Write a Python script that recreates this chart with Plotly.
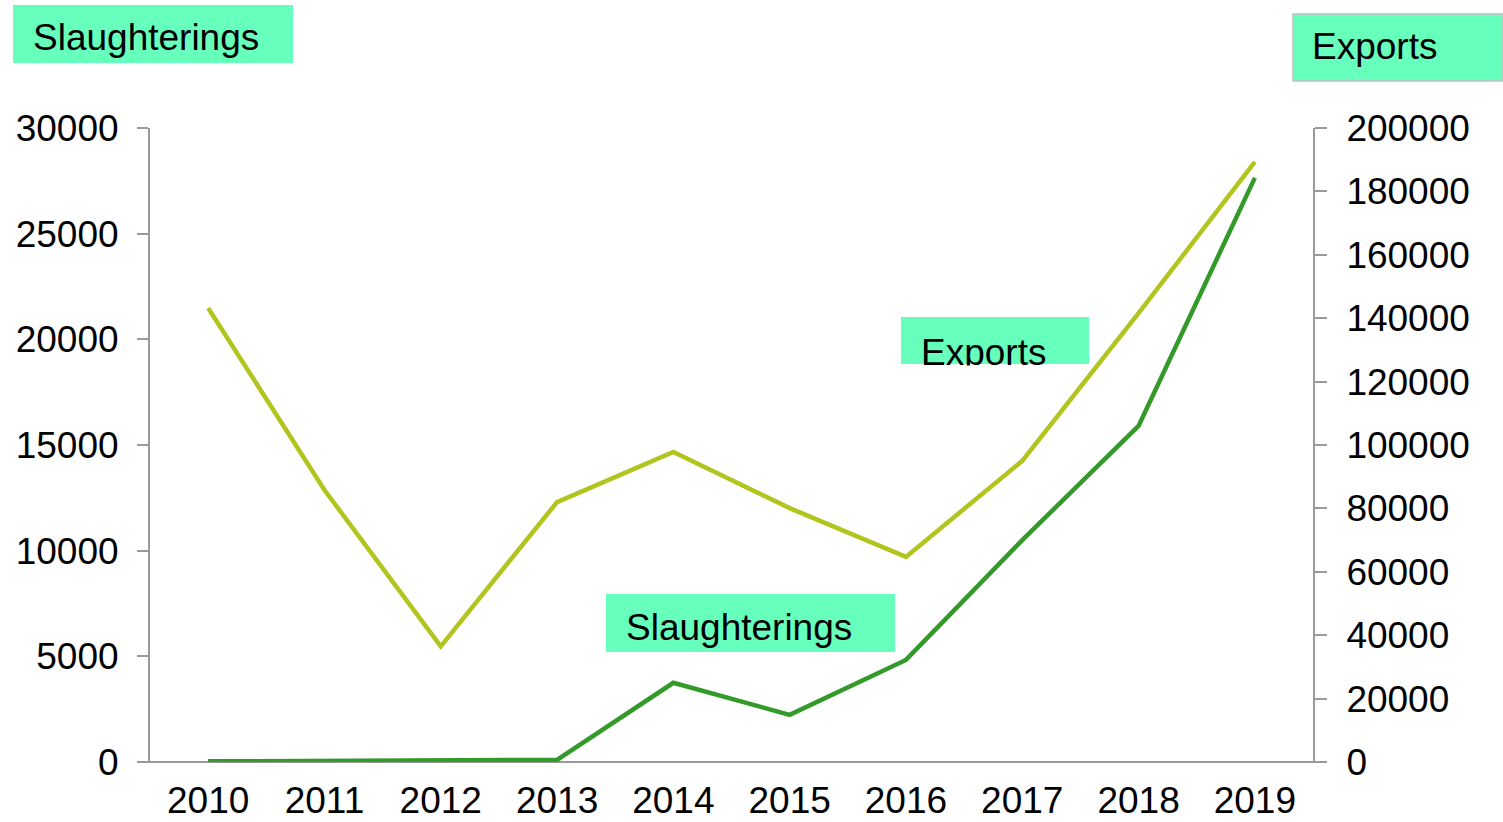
import plotly.graph_objects as go

years = ['2010', '2011', '2012', '2013', '2014', '2015', '2016', '2017', '2018', '2019']
slaughterings = [30, 60, 70, 100, 3750, 2230, 4830, 10500, 15900, 27640]
exports = [143200, 85800, 36500, 82000, 97800, 80100, 64700, 95000, 141600, 189300]

left_ticks = [0, 5000, 10000, 15000, 20000, 25000, 30000]
right_ticks = [0, 20000, 40000, 60000, 80000, 100000, 120000, 140000, 160000, 180000, 200000]

W, H = 1503, 822
L, R, T, B = 150, 190, 128, 60
PW, PH = W - L - R, H - T - B

def px(x):
    return (x - L) / PW

def py(y):
    return (H - B - y) / PH

FONT = "Liberation Sans, Arial, sans-serif"
FS = 37
BOX = "#66ffbb"
GRAY = "#9a9a9a"

fig = go.Figure()
fig.add_trace(go.Scatter(x=years, y=exports, yaxis="y2", mode="lines",
                         line=dict(color="#b2c41e", width=4.5), name="Exports"))
fig.add_trace(go.Scatter(x=years, y=slaughterings, yaxis="y", mode="lines",
                         line=dict(color="#339a2a", width=4.5), name="Slaughterings"))

shapes = []
annotations = []

def box(x0, y0, x1, y1, text, tx, ty, border=None):
    shapes.append(dict(type="rect", xref="paper", yref="paper",
                       x0=px(x0), x1=px(x1), y0=py(y1), y1=py(y0),
                       fillcolor=BOX,
                       line=dict(color=border if border else BOX, width=1.5 if border else 0),
                       layer="above"))
    annotations.append(dict(text=text, xref="paper", yref="paper",
                            x=px(tx), y=py(ty), xanchor="left", yanchor="middle",
                            showarrow=False, font=dict(family=FONT, size=FS, color="black")))

box(13, 5, 293, 63, "Slaughterings", 31, 37)
box(1293, 14, 1503, 81, "Exports", 1310, 47, border="#c0c0c0")
box(901, 317, 1089, 364, "Exports", 919, 352)
box(606, 594, 895, 652, "Slaughterings", 624, 627)

# cover clipped descender of mid "Exports" label
annotations.append(dict(text=" ", xref="paper", yref="paper",
                        x=px(905), y=py(365), xanchor="left", yanchor="top",
                        width=140, height=14, bgcolor="white", borderpad=0,
                        showarrow=False, font=dict(size=8)))

# x axis baseline extending past both y axes
shapes.append(dict(type="line", xref="paper", yref="paper",
                   x0=px(139), x1=px(1325), y0=0, y1=0,
                   line=dict(color=GRAY, width=2), layer="below"))

fig.update_layout(
    width=W, height=H,
    margin=dict(l=L, r=R, t=T, b=B, autoexpand=False),
    paper_bgcolor="white", plot_bgcolor="white",
    showlegend=False,
    font=dict(family=FONT, size=FS, color="black"),
    xaxis=dict(type="category", range=[-0.5, 9.5], showgrid=False, zeroline=False,
               showline=False, ticks="", tickfont=dict(size=FS), ticklabelstandoff=13,
               automargin=False),
    yaxis=dict(range=[0, 30000], tickvals=left_ticks, ticktext=[str(v) for v in left_ticks],
               showgrid=False, zeroline=False, showline=True, linecolor=GRAY, linewidth=2,
               ticks="outside", ticklen=11, tickwidth=2, tickcolor=GRAY,
               ticklabelstandoff=11, tickfont=dict(size=FS), automargin=False),
    yaxis2=dict(range=[0, 200000], tickvals=right_ticks, ticktext=[str(v) for v in right_ticks],
                overlaying="y", side="right", showgrid=False, zeroline=False,
                showline=True, linecolor=GRAY, linewidth=2,
                ticks="outside", ticklen=12, tickwidth=2, tickcolor=GRAY,
                ticklabelstandoff=12, tickfont=dict(size=FS), automargin=False),
    shapes=shapes,
    annotations=annotations,
)

fig.write_html("out.html")
